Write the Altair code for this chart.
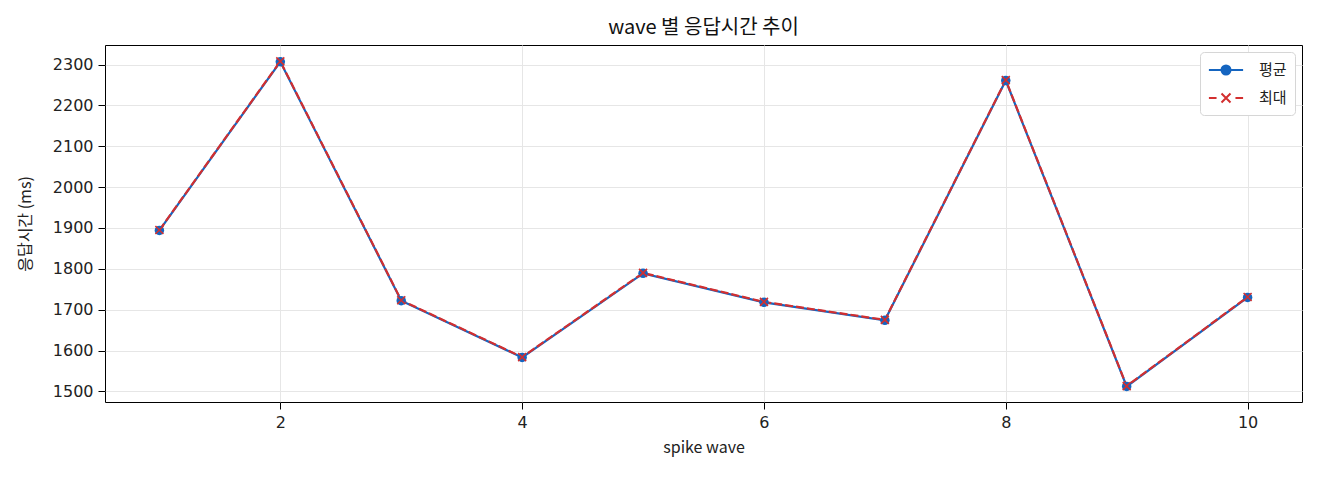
import altair as alt
import pandas as pd

waves = [1, 2, 3, 4, 5, 6, 7, 8, 9, 10]
avg_ms = [1894, 2307, 1722, 1583, 1789, 1718, 1674, 2261, 1512, 1730]
max_ms = [1895, 2308, 1723, 1584, 1790, 1719, 1675, 2262, 1513, 1731]
series_names = ["평균", "최대"]
x_ticks = [2, 4, 6, 8, 10]
y_ticks = [1500, 1600, 1700, 1800, 1900, 2000, 2100, 2200, 2300]

df = pd.DataFrame({
    "wave": waves * 2,
    "value": avg_ms + max_ms,
    "series": [series_names[0]] * len(waves) + [series_names[1]] * len(waves),
})

BLUE = "#1565C0"
RED = "#D32F2F"
FONT = "Noto Sans CJK KR"
NUM_FONT = "DejaVu Sans"

X_PATH = "M-1,-1L1,1M-1,1L1,-1"
AVG_LEG = "M-1.9,0H1.9M0.5,0A0.5,0.5,0,1,1,-0.5,0A0.5,0.5,0,1,1,0.5,0"
MAX_LEG = "M-1.9,0H-1.05M1.05,0H1.9M-0.5,-0.5L0.5,0.5M-0.5,0.5L0.5,-0.5"

x = alt.X(
    "wave:Q",
    scale=alt.Scale(domain=[0.55, 10.45], nice=False, zero=False),
    axis=alt.Axis(values=x_ticks, title="spike wave", format="d"),
)
y = alt.Y(
    "value:Q",
    scale=alt.Scale(domain=[1474, 2348], nice=False, zero=False),
    axis=alt.Axis(values=y_ticks, title="응답시간 (ms)", format="d",
                  titleX=-80, titleY=178.5, titleAngle=-90,
                  titleAlign="center", titleBaseline="middle"),
)

base = alt.Chart(df)

line_avg = base.transform_filter(alt.datum.series == series_names[0]).mark_line(
    color=BLUE, strokeWidth=2.2
).encode(x=x, y=y)
pts_avg = base.transform_filter(alt.datum.series == series_names[0]).mark_circle(
    color=BLUE, size=90, opacity=1
).encode(x=x, y=y)
line_max = base.transform_filter(alt.datum.series == series_names[1]).mark_line(
    color=RED, strokeWidth=2.2, strokeDash=[8, 3]
).encode(x=x, y=y)
pts_max = base.transform_filter(alt.datum.series == series_names[1]).mark_point(
    shape=X_PATH, color=RED, size=64, strokeWidth=1.6, opacity=1, filled=False
).encode(x=x, y=y)

color_scale = alt.Scale(domain=series_names, range=[BLUE, RED])
legend = alt.Legend(
    title=None,
    orient="top-right",
    offset=7,
    padding=8,
    rowPadding=9,
    symbolSize=324,
    symbolStrokeWidth=2,
    symbolOffset=8,
    labelOffset=23,
    labelFont=FONT,
    labelFontSize=15,
    labelColor="#222222",
    strokeColor="#d6d6d6",
    fillColor="#ffffff",
    cornerRadius=4,
)
legend_layer = base.transform_filter("false").mark_point(opacity=1, filled=False).encode(
    x=x,
    y=y,
    color=alt.Color("series:N", scale=color_scale, legend=legend),
    fill=alt.Fill("series:N", scale=color_scale, legend=legend),
    shape=alt.Shape("series:N", scale=alt.Scale(domain=series_names, range=[AVG_LEG, MAX_LEG]), legend=legend),
)

chart = alt.layer(line_avg, line_max, pts_avg, pts_max, legend_layer).properties(
    width=1197,
    height=357,
    title=alt.TitleParams("wave 별 응답시간 추이", font=FONT, fontSize=20, fontWeight="normal",
                          anchor="middle", offset=7, color="#111111"),
    autosize=alt.AutoSizeParams(type="none"),
    padding={"left": 97, "top": 37, "right": 10, "bottom": 70},
).configure_view(
    stroke="#000000", strokeWidth=1
).configure_axis(
    domain=False,
    grid=True,
    gridColor="#e6e6e6",
    gridWidth=1,
    tickColor="#000000",
    tickSize=7,
    tickWidth=1,
    labelFont=NUM_FONT,
    labelFontSize=16,
    labelColor="#222222",
    titleFont=FONT,
    titleFontSize=16,
    titleFontWeight="normal",
    titleColor="#222222",
).configure_axisX(
    labelPadding=5, titlePadding=9
).configure_axisY(
    labelPadding=5
)

chart.save("out.html", embed_options={"renderer": "svg", "actions": False})
